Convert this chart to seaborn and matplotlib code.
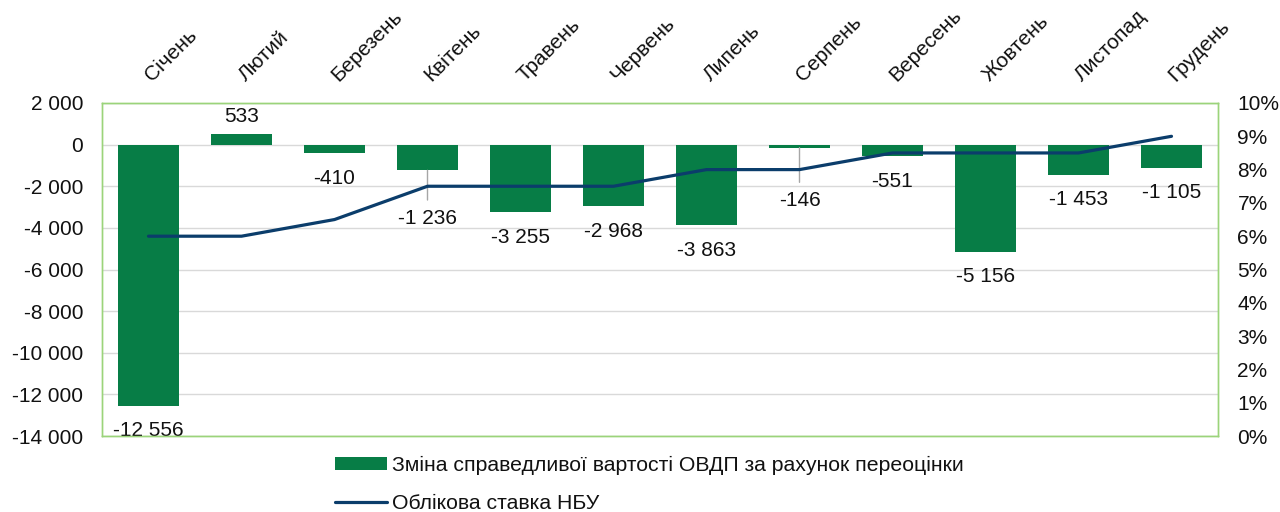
import numpy as np
import pandas as pd
import matplotlib
matplotlib.use("Agg")
import matplotlib.pyplot as plt
import matplotlib.ticker as mticker
from matplotlib.patches import Patch
from matplotlib.lines import Line2D
import seaborn as sns

# ── Data ──────────────────────────────────────────────────────────────────────
MONTHS = ["Січень", "Лютий", "Березень", "Квітень", "Травень", "Червень",
          "Липень", "Серпень", "Вересень", "Жовтень", "Листопад", "Грудень"]
REVALUATION = [-12556, 533, -410, -1236, -3255, -2968,
               -3863, -146, -551, -5156, -1453, -1105]
NBU_RATE = [6.0, 6.0, 6.5, 7.5, 7.5, 7.5, 8.0, 8.0, 8.5, 8.5, 8.5, 9.0]

BAR_LABEL = "Зміна справедливої вартості ОВДП за рахунок переоцінки"
LINE_LABEL = "Облікова ставка НБУ"

# ── Style ─────────────────────────────────────────────────────────────────────
BAR_COLOR = "#077D46"
LINE_COLOR = "#0B3D6B"
FRAME_COLOR = "#9BD47A"
GRID_COLOR = "#D9D9D9"
LEADER_COLOR = "#A6A6A6"
TEXT_COLOR = "#111111"
FONT_SIZE = 15

# labels pushed further down where the rate line would run through them
LEADER_SHIFT = {3: 48, 7: 53}


def fmt_num(v, _pos=None):
    s = f"{abs(int(round(v))):,}".replace(",", " ")
    return ("-" if v < 0 else "") + s


def main():
    sns.set_style("white")
    plt.rcParams["font.family"] = ["Liberation Sans", "DejaVu Sans"]
    plt.rcParams["text.color"] = TEXT_COLOR
    plt.rcParams["xtick.color"] = TEXT_COLOR
    plt.rcParams["ytick.color"] = TEXT_COLOR

    fig = plt.figure(figsize=(12.8, 5.12), dpi=100)
    ax = fig.add_axes([102 / 1280, 1 - 436 / 512, (1218 - 102) / 1280, (436 - 103) / 512])

    df = pd.DataFrame({"month": MONTHS, "value": REVALUATION})
    sns.barplot(data=df, x="month", y="value", color=BAR_COLOR, saturation=1,
                width=0.656, linewidth=0, ax=ax)

    ax.set_ylim(-14000, 2000)
    ax.set_yticks(range(-14000, 2001, 2000))
    ax.yaxis.set_major_formatter(mticker.FuncFormatter(fmt_num))
    ax.grid(axis="y", color=GRID_COLOR, lw=1)
    ax.set_axisbelow(True)
    ax.set_xlabel("")
    ax.set_ylabel("")
    ax.tick_params(axis="y", length=0, pad=13.5, labelsize=FONT_SIZE)
    ax.xaxis.tick_top()
    ax.tick_params(axis="x", length=0, pad=18, labelsize=FONT_SIZE)
    for lab in ax.get_xticklabels():
        lab.set_rotation(45)
        lab.set_ha("left")
        lab.set_va("center")
        lab.set_rotation_mode("anchor")
    for sp in ax.spines.values():
        sp.set_visible(True)
        sp.set_color(FRAME_COLOR)
        sp.set_linewidth(1)

    # data labels
    for i, v in enumerate(REVALUATION):
        if v >= 0:
            off = 17
        else:
            off = -LEADER_SHIFT.get(i, 25)
        kw = {}
        if i in LEADER_SHIFT:
            kw["arrowprops"] = dict(arrowstyle="-", color=LEADER_COLOR, lw=1,
                                    shrinkA=4, shrinkB=0)
        ax.annotate(fmt_num(v), xy=(i, v), xytext=(0, off), textcoords="offset pixels",
                    ha="center", va="center", fontsize=FONT_SIZE, **kw)

    # NBU rate on the right axis
    ax2 = ax.twinx()
    sns.lineplot(x=np.arange(len(NBU_RATE)), y=NBU_RATE, ax=ax2,
                 color=LINE_COLOR, lw=2.3)
    ax2.set_ylim(0, 10)
    ax2.set_yticks(range(0, 11))
    ax2.yaxis.set_major_formatter(mticker.FuncFormatter(lambda v, p: f"{v:.0f}%"))
    ax2.tick_params(axis="y", length=0, pad=14, labelsize=FONT_SIZE)
    ax2.set_ylabel("")
    ax2.grid(False)
    for sp in ax2.spines.values():
        sp.set_visible(True)
        sp.set_color(FRAME_COLOR)
        sp.set_linewidth(1)
    ax.set_xlim(-0.5, 11.5)

    handles = [Patch(facecolor=BAR_COLOR, edgecolor="none"),
               Line2D([], [], color=LINE_COLOR, lw=2.3)]
    fig.legend(handles, [BAR_LABEL, LINE_LABEL], loc="upper left",
               bbox_to_anchor=(335 / 1280, 1 - 456 / 512), frameon=False,
               borderpad=0, borderaxespad=0, handlelength=2.45, handleheight=0.5,
               handletextpad=0.25, labelspacing=0.9, fontsize=15.3)

    fig.savefig("out.png", dpi=100)
    plt.close(fig)


if __name__ == "__main__":
    main()
